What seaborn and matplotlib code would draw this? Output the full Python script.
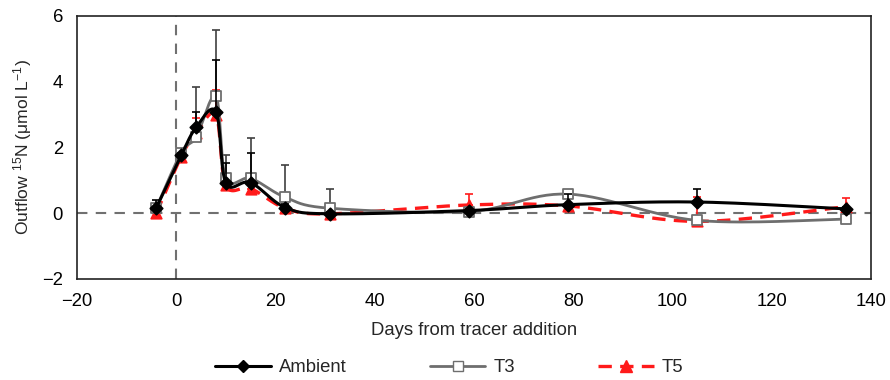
import numpy as np
import pandas as pd
import matplotlib
matplotlib.use("Agg")
import matplotlib.pyplot as plt
import seaborn as sns
from matplotlib.lines import Line2D

# ---- data ----
days = [-4, 1, 4, 8, 10, 15, 22, 31, 59, 79, 105, 135]
ambient = [0.17, 1.76, 2.61, 3.09, 0.92, 0.93, 0.17, -0.02, 0.08, 0.26, 0.34, 0.13]
t3 = [0.17, 1.84, 2.31, 3.55, 1.06, 1.06, 0.48, 0.15, 0.05, 0.58, -0.22, -0.18]
t5 = [0.0, 1.72, 2.44, 2.99, 0.85, 0.75, 0.15, -0.02, 0.25, 0.22, -0.25, 0.2]
ambient_err = [0.23, 0.08, 0.48, 1.57, 0.60, 0.90, 0.10, 0.05, 0.05, 0.33, 0.40, 0.05]
t3_err = [0.10, 0.05, 1.54, 2.02, 0.71, 1.22, 0.99, 0.58, 0.05, 0.10, 0.05, 0.05]
t5_err = [0.05, 0.05, 0.46, 0.76, 0.20, 0.10, 0.05, 0.05, 0.33, 0.05, 0.75, 0.27]
series_names = ["Ambient", "T3", "T5"]

sns.set_theme(style="white")
plt.rcParams["font.family"] = ["Liberation Sans", "DejaVu Sans"]
plt.rcParams["mathtext.default"] = "regular"


def smooth(x, y, n=30):
    """Excel-like smoothed (Catmull-Rom Bezier) curve through points."""
    P = np.column_stack([x, y]).astype(float)
    m = len(P)
    out = []
    t = np.linspace(0, 1, n)[:, None]
    for i in range(m - 1):
        p0 = P[i - 1] if i > 0 else P[i]
        p1 = P[i]
        p2 = P[i + 1]
        p3 = P[i + 2] if i + 2 < m else P[i + 1]
        c1 = p1 + (p2 - p0) / 6.0
        c2 = p2 - (p3 - p1) / 6.0
        seg = ((1 - t) ** 3) * p1 + 3 * ((1 - t) ** 2) * t * c1 + 3 * (1 - t) * t ** 2 * c2 + t ** 3 * p2
        out.append(seg if i == 0 else seg[1:])
    s = np.vstack(out)
    return s[:, 0], s[:, 1]


fig = plt.figure(figsize=(8.9, 3.8), dpi=100)
ax = fig.add_axes([0.0865, 0.266, 0.8922, 0.692])

ax.axhline(0, color="#707070", lw=1.5, ls=(0, (5, 4)), zorder=1)
ax.axvline(0, color="#707070", lw=1.5, ls=(0, (5, 4)), zorder=1)

styles = {
    "T5": dict(vals=t5, err=t5_err, color="#ff1a1a", ecolor="#ff1a1a", ls=(0, (4, 2.5)), lw=2.4,
               marker="^", ms=7.5, mfc="#ff1a1a", mec="#ff1a1a", z=3),
    "T3": dict(vals=t3, err=t3_err, color="#6e6e6e", ecolor="#404040", ls="-", lw=2.0,
               marker="s", ms=7, mfc="white", mec="#6e6e6e", z=4),
    "Ambient": dict(vals=ambient, err=ambient_err, color="black", ecolor="black", ls="-", lw=2.2,
                    marker="D", ms=6.3, mfc="black", mec="black", z=5),
}

for name in ["T5", "T3", "Ambient"]:
    st = styles[name]
    ax.errorbar(days, st["vals"], yerr=[np.zeros(len(days)), st["err"]], fmt="none",
                ecolor=st["ecolor"], elinewidth=1.2, capsize=3, capthick=1.2, zorder=st["z"] - 0.5)
    sx, sy = smooth(days, st["vals"])
    sns.lineplot(x=sx, y=sy, ax=ax, color=st["color"], lw=st["lw"], linestyle=st["ls"],
                 sort=False, estimator=None, zorder=st["z"])
    df = pd.DataFrame({"day": days, "val": st["vals"]})
    sns.scatterplot(data=df, x="day", y="val", ax=ax, marker=st["marker"], s=st["ms"] ** 2,
                    color=st["mfc"], edgecolor=st["mec"], linewidth=1.3, zorder=st["z"] + 0.2)

ax.set_xlim(-20, 140)
ax.set_ylim(-2, 6)
ax.set_xticks(range(-20, 141, 20))
ax.set_yticks(range(-2, 7, 2))
ax.set_xticklabels([f"\u2212{abs(v)}" if v < 0 else str(v) for v in range(-20, 141, 20)])
ax.set_yticklabels([f"\u2212{abs(v)}" if v < 0 else str(v) for v in range(-2, 7, 2)])
ax.tick_params(axis="both", direction="out", length=6, width=1, labelsize=13.3, colors="#333333",
               labelcolor="black", pad=4)
for sp in ax.spines.values():
    sp.set_color("#222222")
    sp.set_linewidth(1.2)
    sp.set_visible(True)

ax.set_xlabel("Days from tracer addition", fontsize=13.3, labelpad=9)
ax.set_ylabel("Outflow $^{15}$N (\u03bcmol L$^{\u22121}$)", fontsize=12.6, labelpad=6)

handles = [
    Line2D([], [], color="black", lw=2.2, marker="D", ms=6, mfc="black", mec="black"),
    Line2D([], [], color="#6e6e6e", lw=2.0, marker="s", ms=7, mfc="white", mec="#6e6e6e"),
    Line2D([], [], color="#ff1a1a", lw=2.4, ls=(0, (4, 2.5)), marker="^", ms=8, mfc="#ff1a1a", mec="#ff1a1a"),
]
fig.legend(handles, series_names, loc="center", bbox_to_anchor=(0.505, 0.032), ncol=3,
           frameon=False, fontsize=13.3, handlelength=3.0, handletextpad=0.45, columnspacing=4.5)

fig.savefig("out.png", dpi=100)
